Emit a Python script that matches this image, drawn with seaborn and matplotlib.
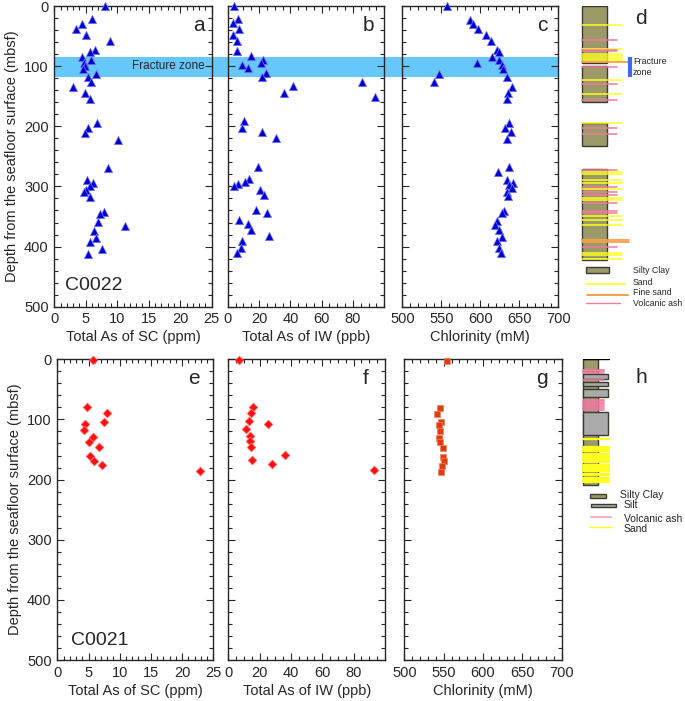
import numpy as np
import pandas as pd
import matplotlib
matplotlib.use("Agg")
import matplotlib.pyplot as plt
import seaborn as sns
from matplotlib.patches import Rectangle
from matplotlib.ticker import MultipleLocator
from matplotlib.transforms import blended_transform_factory

# ---------------- data ----------------
# C0022
a_depth = [0, 22, 30, 39, 48, 58, 73, 76, 85, 90, 94, 100, 105, 113, 118, 126, 135, 145, 154,
           194, 203, 211, 222, 269, 289, 295, 300, 306, 310, 317, 342, 346, 359, 365, 374, 385,
           392, 404, 412]
a_as = [8.05, 6.0, 4.4, 3.5, 5.1, 8.9, 6.4, 5.6, 4.4, 5.8, 4.7, 4.8, 4.5, 6.6, 5.3, 5.9, 2.9, 4.8, 5.6,
        6.8, 5.4, 4.9, 10.1, 8.6, 5.2, 6.2, 5.6, 5.0, 4.7, 5.7, 7.9, 7.2, 6.9, 11.2, 6.3, 6.6,
        5.7, 7.5, 5.4]

b_depth = [0, 22, 29, 38, 48, 58, 74, 83, 89, 94, 98, 103, 112, 118, 133, 144, 126, 152,
           192, 203, 209, 220, 267, 287, 293, 296, 299, 306, 314, 340, 344, 356, 363, 372, 382,
           390, 402, 410]
b_as = [4.0, 6.8, 3.2, 7.4, 3.6, 5.7, 5.7, 14.7, 22.3, 21.3, 8.9, 13.2, 24.3, 22.1, 41.9, 36.0, 86.0, 94.0,
        10.4, 8.9, 22.1, 30.6, 19.1, 13.6, 11.1, 6.8, 4.0, 20.6, 23.4, 18.1, 24.9, 7.4, 13.2, 14.7, 26.6,
        8.9, 8.3, 5.7]

c_depth = [0, 23, 30, 39, 48, 58, 73, 77, 84, 90, 94, 98, 104, 113, 118, 127, 134, 145, 154,
           194, 203, 210, 221, 268, 276, 289, 294, 298, 302, 309, 316, 341, 345, 358, 364, 372,
           384, 390, 403, 411]
c_cl = [556.8, 586.8, 590.2, 597.4, 606.8, 613.7, 621.8, 623.9, 615.4, 623.9, 595.3, 627.4, 629.5,
        547.4, 633.8, 540.6, 641.0, 635.9, 634.6, 637.2, 631.6, 638.9, 633.8, 637.2, 623.1, 634.6,
        641.5, 637.2, 640.2, 633.8, 635.0, 630.3, 627.4, 621.8, 618.8, 624.4, 627.4, 620.9, 624.4, 626.5]

# C0021
e_depth = [1, 80, 90, 108, 104, 118, 129, 137, 146, 161, 169, 176, 185]
e_as = [5.7, 4.7, 7.9, 4.5, 7.5, 4.3, 5.7, 5.0, 6.7, 5.3, 5.9, 7.1, 22.8]

f_depth = [1, 79, 90, 103, 108, 116, 127, 136, 145, 159, 167, 174, 184]
f_as = [6.8, 15.5, 14.3, 13.2, 25.1, 11.1, 13.8, 14.0, 14.3, 36.2, 15.3, 27.7, 93.2]

g_depth = [3, 81, 91, 105, 109, 119, 131, 138, 148, 162, 169, 177, 187]
g_cl = [554.7, 545.3, 541.9, 546.2, 544.1, 545.3, 544.5, 545.3, 548.7, 549.6, 550.4, 547.5, 546.2]

fracture_zone = (85, 118)

# lithology C0022 (panel d)
d_clay_blocks = [(0, 95), (100, 159), (194, 233), (271, 422)]
d_sand = [32, 71, 80, 83, 86, 89, 123, 147, 195, 276, 279, 290, 294, 305, 320, 323, 349, 356, 364,
          410, 414, 420]
d_ash = [57, 73, 75, 102, 129, 156, 203, 213, 272, 301, 310, 314, 328, 341, 344, 401]
d_fine_sand = [93, 389, 392]

# lithology C0021 (panel h)
h_column = (0, 209)
h_silt_blocks = [(25, 32), (38, 44), (50, 63), (87, 126)]
h_ash = [17, 19, 23, 34, 67, 69, 72, 75, 78, 81, 84]
h_sand = [132, 146, 149, 153, 157, 160, 164, 168, 171, 175, 179, 182, 186, 190, 193, 197, 201, 204]

# ---------------- style ----------------
sns.set_style("ticks")
plt.rcParams['font.family'] = ['Liberation Sans', 'DejaVu Sans']
plt.rcParams['axes.linewidth'] = 1.0

W, H = 685, 701
fig = plt.figure(figsize=(W / 100, H / 100), dpi=100)
fig.patch.set_facecolor('white')


def px_axes(x0, y0, x1, y1):
    return fig.add_axes([x0 / W, 1 - y1 / H, (x1 - x0) / W, (y1 - y0) / H])


BLUE = '#0000cc'
RED = '#ff1010'
ORANGE = '#e03c10'
BAND = '#66c8fa'

top_y = (6, 306.7)
bot_y = (359.3, 660)

ax_a = px_axes(54.3, top_y[0], 211.7, top_y[1])
ax_b = px_axes(227.7, top_y[0], 384.3, top_y[1])
ax_c = px_axes(402.3, top_y[0], 558.3, top_y[1])
ax_e = px_axes(57.3, bot_y[0], 213.3, bot_y[1])
ax_f = px_axes(228.3, bot_y[0], 385.0, bot_y[1])
ax_g = px_axes(404.3, bot_y[0], 561.7, bot_y[1])


def style(ax, xlim, minor, xticks, ylab):
    ax.set_facecolor('none')
    ax.set_xlim(*xlim)
    ax.set_ylim(500, 0)
    ax.set_xticks(xticks)
    ax.xaxis.set_minor_locator(MultipleLocator(minor))
    ax.yaxis.set_major_locator(MultipleLocator(100))
    ax.yaxis.set_minor_locator(MultipleLocator(20))
    ax.tick_params(which='both', direction='in', top=True, right=True, bottom=True, left=True,
                   labelsize=10.5, pad=4)
    ax.tick_params(which='major', length=5, width=0.8)
    ax.tick_params(which='minor', length=3, width=0.8)
    for s in ax.spines.values():
        s.set_visible(True)
        s.set_linewidth(1.0)
    if ylab:
        ax.set_ylabel('Depth from the seafloor surface (mbsf)', fontsize=10.5, labelpad=4)
    else:
        ax.set_yticklabels([])
        ax.set_ylabel('')


def scatter(ax, xs, ys, marker, s, color, edge):
    df = pd.DataFrame({'x': xs, 'y': ys})
    sns.scatterplot(data=df, x='x', y='y', ax=ax, marker=marker, s=s, color=color,
                    edgecolor=edge, linewidth=0.5, zorder=3, clip_on=False, legend=False)


scatter(ax_a, a_as, a_depth, '^', 36, BLUE, '#7a7aff')
scatter(ax_b, b_as, b_depth, '^', 36, BLUE, '#7a7aff')
scatter(ax_c, c_cl, c_depth, '^', 36, BLUE, '#7a7aff')
scatter(ax_e, e_as, e_depth, 'D', 20, RED, '#ff7070')
scatter(ax_f, f_as, f_depth, 'D', 20, RED, '#ff7070')
scatter(ax_g, g_cl, g_depth, 's', 13, ORANGE, '#f08060')

style(ax_a, (0, 25), 1, [0, 5, 10, 15, 20, 25], True)
style(ax_b, (0, 100), 5, [0, 20, 40, 60, 80], False)
style(ax_c, (500, 700), 10, [500, 550, 600, 650, 700], False)
style(ax_e, (0, 25), 1, [0, 5, 10, 15, 20, 25], True)
style(ax_f, (0, 100), 5, [0, 20, 40, 60, 80], False)
style(ax_g, (500, 700), 10, [500, 550, 600, 650, 700], False)

for ax in (ax_a, ax_e):
    ax.set_xlabel('Total As of SC (ppm)', fontsize=10.5, labelpad=3)
for ax in (ax_b, ax_f):
    ax.set_xlabel('Total As of IW (ppb)', fontsize=10.5, labelpad=3)
for ax in (ax_c, ax_g):
    ax.set_xlabel('Chlorinity (mM)', fontsize=10.5, labelpad=3)

# fracture zone band spanning panels a-c
tr = blended_transform_factory(fig.transFigure, ax_a.transData)
fig.patches.append(Rectangle((54.3 / W, fracture_zone[0]), (558.3 - 54.3) / W,
                             fracture_zone[1] - fracture_zone[0], transform=tr,
                             facecolor=BAND, edgecolor='none', zorder=-1))
ax_a.text(0.955, 100, 'Fracture zone', transform=blended_transform_factory(ax_a.transAxes, ax_a.transData),
          ha='right', va='center', fontsize=8.5)

# panel letters / site labels
for ax, lab, x in ((ax_a, 'a', 0.92), (ax_b, 'b', 0.90), (ax_c, 'c', 0.897),
                   (ax_e, 'e', 0.876), (ax_f, 'f', 0.877), (ax_g, 'g', 0.877)):
    ax.text(x, 0.935, lab, transform=ax.transAxes, ha='center', va='center', fontsize=15)
ax_a.text(0.065, 0.072, 'C0022', transform=ax_a.transAxes, ha='left', va='center', fontsize=14)
ax_e.text(0.085, 0.066, 'C0021', transform=ax_e.transAxes, ha='left', va='center', fontsize=14)

# ---------------- lithology columns ----------------
CLAY = '#9c9a68'
SILT = '#aaaaaa'
SAND = '#ffff20'
ASH = '#f07aa0'
FINE = '#f6a24a'
EDGE = '#3a3a30'

ax_d = px_axes(565, top_y[0], 685, top_y[1])
ax_h = px_axes(565, bot_y[0], 685, bot_y[1])
for ax in (ax_d, ax_h):
    ax.set_xlim(565, 685)
    ax.set_ylim(500, 0)
    ax.axis('off')

# d
for top, bot in d_clay_blocks:
    ax_d.add_patch(Rectangle((582.3, top), 24.4, bot - top, facecolor=CLAY, edgecolor=EDGE, lw=1.0, zorder=1))
for dd in d_sand:
    ax_d.plot([582.3, 622], [dd, dd], color=SAND, lw=1.1, zorder=2)
for dd in d_ash:
    ax_d.plot([582.3, 617], [dd, dd], color=ASH, lw=1.1, zorder=2)
for dd in d_fine_sand:
    ax_d.plot([582.3, 629], [dd, dd], color=FINE, lw=1.3, zorder=2)
ax_d.plot([630, 630], list(fracture_zone), color='#3a6cf0', lw=3, solid_capstyle='butt')
ax_d.text(633, 101, 'Fracture\nzone', fontsize=6.5, ha='left', va='center', linespacing=1.3)
ax_d.text(641, 20, 'd', fontsize=15, ha='center', va='center')
# legend d
ax_d.add_patch(Rectangle((586, 434), 23, 10, facecolor=CLAY, edgecolor=EDGE, lw=1.0))
ax_d.plot([586, 625], [462, 462], color=SAND, lw=1.2)
ax_d.plot([587, 628], [480, 480], color=FINE, lw=1.4)
ax_d.plot([586, 620], [494, 494], color=ASH, lw=1.0)
for yy, t in ((439, 'Silty Clay'), (459, 'Sand'), (477, 'Fine sand'), (494, 'Volcanic ash')):
    ax_d.text(633, yy, t, fontsize=6.3, ha='left', va='center')

# h
ax_h.add_patch(Rectangle((583.3, h_column[0]), 15, h_column[1] - h_column[0], facecolor=CLAY,
                         edgecolor=EDGE, lw=1.0, zorder=1))
for top, bot in h_silt_blocks:
    ax_h.add_patch(Rectangle((583.3, top), 24.4, bot - top, facecolor=SILT, edgecolor=EDGE, lw=1.0, zorder=2))
for dd in h_ash:
    ax_h.plot([583.3, 604], [dd, dd], color=ASH, lw=1.2, zorder=3)
for dd in h_sand:
    ax_h.plot([583.3, 608.5], [dd, dd], color=SAND, lw=1.6, zorder=3)
ax_h.plot([583.3, 608.5], [0, 0], color='black', lw=1.0, zorder=4)
ax_h.text(641, 30, 'h', fontsize=15, ha='center', va='center')
# legend h
ax_h.add_patch(Rectangle((590, 224), 15.7, 6, facecolor=CLAY, edgecolor=EDGE, lw=1.0))
ax_h.add_patch(Rectangle((591, 240.5), 24.7, 5, facecolor=SILT, edgecolor=EDGE, lw=1.0))
ax_h.plot([591, 611], [262, 262], color='#f8b0c8', lw=1.5)
ax_h.plot([589, 612], [279, 279], color=SAND, lw=1.0)
for xx, yy, t in ((620, 226, 'Silty Clay'), (624, 243, 'Silt'), (624, 265, 'Volcanic ash'), (624, 282, 'Sand')):
    ax_h.text(xx, yy, t, fontsize=7.5, ha='left', va='center')

fig.savefig('out.png', dpi=100, facecolor='white')
